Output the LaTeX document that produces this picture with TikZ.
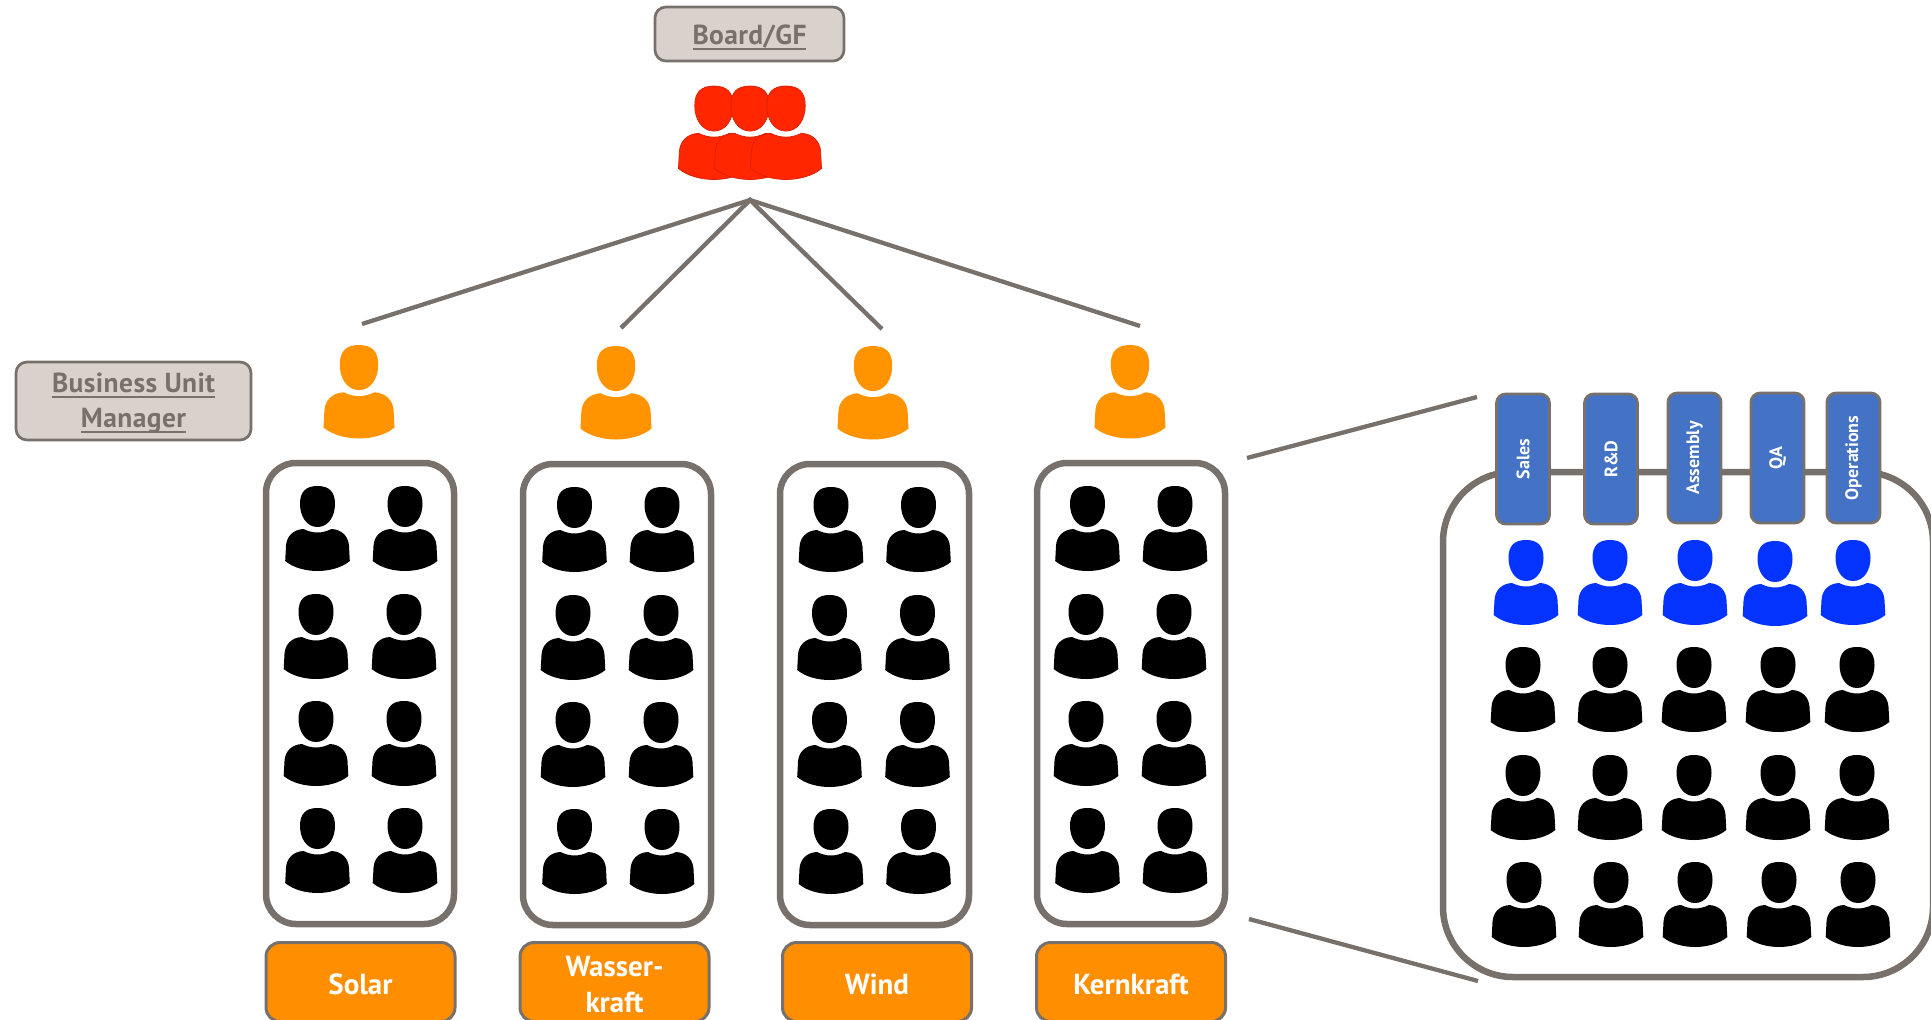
\documentclass[tikz,border=0pt]{standalone}
\usepackage{fontspec}
\setmainfont{PT Sans}
\definecolor{frameC}{HTML}{78706A}
\definecolor{tagC}{HTML}{D9D1CC}
\definecolor{orangeL}{HTML}{FF8E00}
\definecolor{orangeP}{HTML}{FF9300}
\definecolor{redP}{HTML}{FF2600}
\definecolor{blueP}{HTML}{0433FF}
\definecolor{tabC}{HTML}{4472C4}
\newcommand\ulbl[2][25pt]{\leavevmode\vtop{\hbox{\rule{0pt}{#1}\smash{#2}}\kern3.5pt\hrule height 2.1pt}}
\newcommand\lift{\rule{0pt}{25pt}}
\tikzset{
  x=1pt,y=-1pt,
  pics/person/.style={code={
    \path[pic actions] (0,0) .. controls (12,0) and (17.5,6) .. (17.5,18)
      .. controls (17.5,30) and (11,41) .. (0,41)
      .. controls (-11,41) and (-17.5,30) .. (-17.5,18)
      .. controls (-17.5,6) and (-12,0) .. (0,0) -- cycle;
    \path[pic actions] (0,46.5) .. controls (5,46.5) and (10,45) .. (14,43)
      .. controls (24,43.5) and (31,50) .. (31.5,60) -- (32.3,75)
      .. controls (24,82) and (11,85) .. (0,85)
      .. controls (-11,85) and (-24,82) .. (-32.3,75) -- (-31.5,60)
      .. controls (-31,50) and (-24,43.5) .. (-14,43)
      .. controls (-10,45) and (-5,46.5) .. (0,46.5) -- cycle;
  }},
  tag/.style={draw=frameC,line width=2.7pt,fill=tagC,rounded corners=11pt,text=frameC,align=center,inner sep=0pt,
    font=\fontsize{27.5}{35}\selectfont\bfseries\addfontfeatures{LetterSpace=1.5}},
  unitbox/.style={draw=frameC,line width=6.5pt,rounded corners=30pt,inner sep=0pt},
  unitlabel/.style={draw=frameC,line width=3pt,fill=orangeL,rounded corners=14pt,text=white,align=center,inner sep=0pt,
    minimum width=189pt,minimum height=79pt,font=\fontsize{29}{36}\selectfont\bfseries},
  tab/.style={draw=frameC,line width=2.7pt,fill=tabC,rounded corners=9pt,text=white,inner sep=0pt,
    minimum width=53pt,minimum height=130pt},
  tabtext/.style={text=white,rotate=90,inner sep=0pt,font=\fontsize{18}{20}\selectfont\bfseries},
  conn/.style={draw=frameC,line width=4.3pt},
  zoomline/.style={draw=frameC,line width=4.3pt},
}
\begin{document}
\begin{tikzpicture}
\useasboundingbox (0,0) rectangle (1931,1020);
% tags
\node[tag,minimum width=189pt,minimum height=54pt] (board) at (749.5,34) {\ulbl[27.3pt]{Board/GF}};
\node[tag,minimum width=235pt,minimum height=78pt] (bum) at (133.5,401) {\ulbl[24.3pt]{Business Unit}\\\ulbl{Manager}};
% red group
\begin{scope}[line width=0.7pt]
\pic[fill=redP,draw=redP!85!black,scale=1.1] (r1) at (714,86) {person};
\pic[fill=redP,draw=redP!85!black,scale=1.1] (r2) at (750,86) {person};
\pic[fill=redP,draw=redP!85!black,scale=1.1] (r3) at (786,86) {person};
\end{scope}
% connectors
\coordinate (apex) at (750,200);
\coordinate (m1) at (362,324);
\coordinate (m2) at (621,328);
\coordinate (m3) at (882,329);
\coordinate (m4) at (1140,326);
\draw[conn] (m1) -- (apex) -- (m4);
\draw[conn] (m2) -- (apex) -- (m3);
% managers
\pic[fill=orangeP,scale=1.1] (o1) at (359,345) {person};
\pic[fill=orangeP,scale=1.1] (o2) at (616,346) {person};
\pic[fill=orangeP,scale=1.1] (o3) at (873,346) {person};
\pic[fill=orangeP,scale=1.1] (o4) at (1130,345) {person};
% unit frames
\node[unitbox,minimum width=188pt,minimum height=461pt] (f1) at (360,693.5) {};
\node[unitbox,minimum width=188pt,minimum height=461pt] (f2) at (617,694.5) {};
\node[unitbox,minimum width=189pt,minimum height=461pt] (f3) at (874.5,694.5) {};
\node[unitbox,minimum width=188pt,minimum height=461pt] (f4) at (1131,693.5) {};
% employees in units
\foreach \dx/\dy in {0/0,257/1,513.5/1,770/0}{
  \foreach \px/\py in {317.5/486,405/486,316/594,404/594,316/701,404/701,317.5/808,405/808}{
    \pic[fill=black] at (\px+\dx,\py+\dy) {person};
  }
}
% labels
\node[unitlabel] (l1) at (360.5,982) {\lift Solar};
\node[unitlabel] (l2) at (614.5,982) {\lift Wasser-\\kraft};
\node[unitlabel] (l3) at (877,982) {\lift Wind};
\node[unitlabel] (l4) at (1131,982) {\lift Kernkraft};
% zoom lines
\coordinate (zs1) at (1247,458);
\coordinate (ze1) at (1477,397);
\coordinate (zs2) at (1249,919);
\coordinate (ze2) at (1478,981);
\draw[zoomline] (zs1) -- (ze1);
\draw[zoomline] (zs2) -- (ze2);
% detail panel
\node[unitbox,rounded corners=70pt,minimum width=490pt,minimum height=505pt] (panel) at (1688,724.5) {};
% tabs
\node[tab] (t1) at (1523,459) {};
\node[tab] (t2) at (1611,459) {};
\node[tab] (t3) at (1694.5,458) {};
\node[tab] (t4) at (1777.5,458) {};
\node[tab] (t5) at (1853.5,458) {};
\node[tabtext] (tt1) at (t1.center) {Sales};
\node[tabtext] (tt2) at (t2.center) {R\&D};
\node[tabtext] (tt3) at (t3.center) {Assembly};
\node[tabtext] (tt4) at (t4.center) {QA};
\node[tabtext] (tt5) at (t5.center) {Operations};
% blue
\pic[fill=blueP] (b1) at (1526,540) {person};
\pic[fill=blueP] (b2) at (1610,540) {person};
\pic[fill=blueP] (b3) at (1695,540) {person};
\pic[fill=blueP] (b4) at (1775,541) {person};
\pic[fill=blueP] (b5) at (1853,540) {person};
% black in panel
\foreach \px/\py in {1523/647,1610/647,1694/647,1778/647,1857/647,
                     1523/755,1610/755,1694/755,1778/755,1857/755,
                     1524/862,1611/862,1695/862,1779/862,1858/862}{
  \pic[fill=black] at (\px,\py) {person};
}
\end{tikzpicture}
\end{document}
